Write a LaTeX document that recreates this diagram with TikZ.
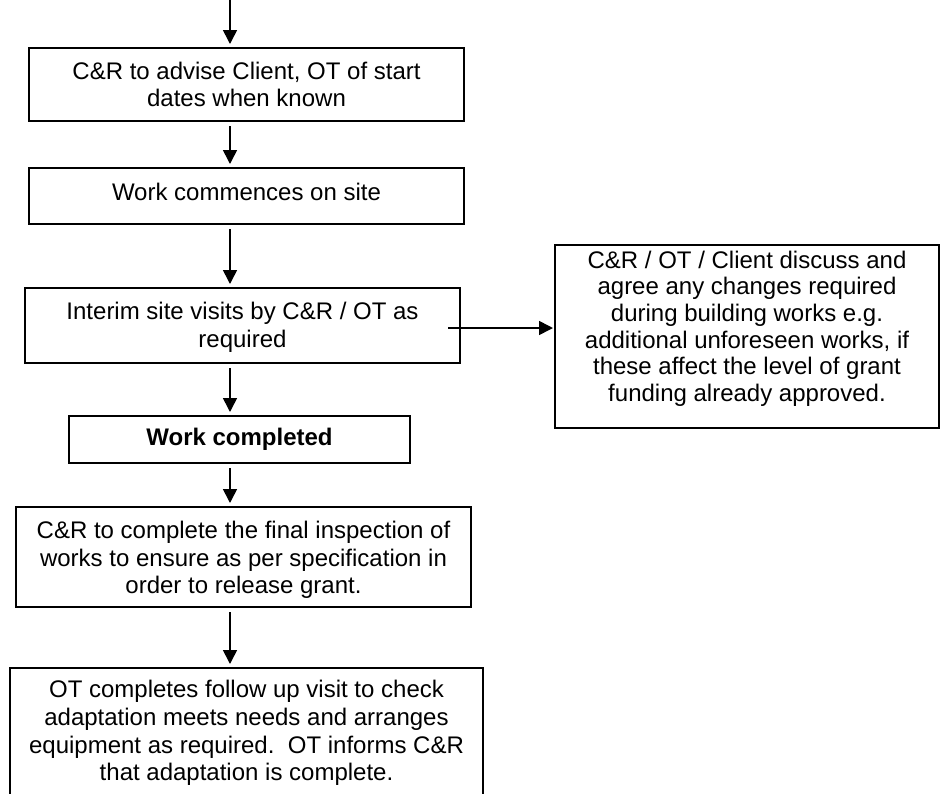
\documentclass[tikz,border=0pt]{standalone}
\usepackage{fontspec}
\setmainfont{Liberation Sans}
\usetikzlibrary{arrows.meta,calc}
\tikzset{
  flowbox/.style={draw, line width=1pt, inner sep=0pt},
  txt/.style={inner sep=0pt, align=center, font=\fontsize{12}{13.8}\selectfont},
  arr/.style={line width=0.8pt, -{Triangle[length=7pt,width=7pt]},
    shorten <=2pt, shorten >=1.5pt}
}
\begin{document}
\begin{tikzpicture}[x=0.5pt,y=-0.5pt]
\useasboundingbox (0,0) rectangle (943,793);
\clip (0,0) rectangle (943,793);
% boxes
\node[flowbox, minimum width=217.5pt, minimum height=36.5pt] (b1) at (246.5,84.5) {};
\node[flowbox, minimum width=217.5pt, minimum height=28pt]   (b2) at (246.5,196) {};
\node[flowbox, minimum width=217.5pt, minimum height=37.5pt] (b3) at (242.5,325.5) {};
\node[flowbox, minimum width=170.5pt, minimum height=23.5pt] (b4) at (239.5,439.5) {};
\node[flowbox, minimum width=227.5pt, minimum height=50pt]   (b5) at (243.5,557) {};
\node[flowbox, minimum width=236.5pt, minimum height=65pt]   (b6) at (246.5,733) {};
\node[flowbox, minimum width=192pt,   minimum height=91.5pt] (r)  at (747,336.5) {};
% texts
\node[txt] (t1) at ($(b1.center)+(0,0)$) {C\&R to advise Client, OT of start\\dates when known};
\node[txt] (t2) at ($(b2.center)+(0,-4)$) {Work commences on site};
\node[txt] (t3) at ($(b3.center)+(0,2)$) {Interim site visits by C\&R / OT as\\required};
\node[txt, font=\fontsize{12}{13.8}\selectfont\bfseries] (t4) at ($(b4.center)+(0,0)$) {Work completed};
\node[txt] (t5) at ($(b5.center)+(0,3)$) {C\&R to complete the final inspection of\\works to ensure as per specification in\\order to release grant.};
\node[txt] (t6) at ($(b6.center)+(0,0)$) {OT completes follow up visit to check\\adaptation meets needs and arranges\\equipment as required.\ \ OT informs C\&R\\that adaptation is complete.};
\node[txt, font=\fontsize{12}{13.3}\selectfont] (tr) at ($(r.center)+(0,-8)$) {C\&R / OT / Client discuss and\\agree any changes required\\during building works e.g.\\additional unforeseen works, if\\these affect the level of grant\\funding already approved.};
% connectors
\coordinate (ax) at (230,0);
\coordinate (hs) at (448,328);
\draw[arr, shorten <=0pt] (ax) -- (b1.north -| ax);
\draw[arr] (b1.south -| ax) -- (b2.north -| ax);
\draw[arr] (b2.south -| ax) -- (b3.north -| ax);
\draw[arr] (b3.south -| ax) -- (b4.north -| ax);
\draw[arr] (b4.south -| ax) -- (b5.north -| ax);
\draw[arr] (b5.south -| ax) -- (b6.north -| ax);
\draw[arr, shorten <=0pt, shorten >=0.5pt] (hs) -- (r.west |- hs);
\end{tikzpicture}
\end{document}
